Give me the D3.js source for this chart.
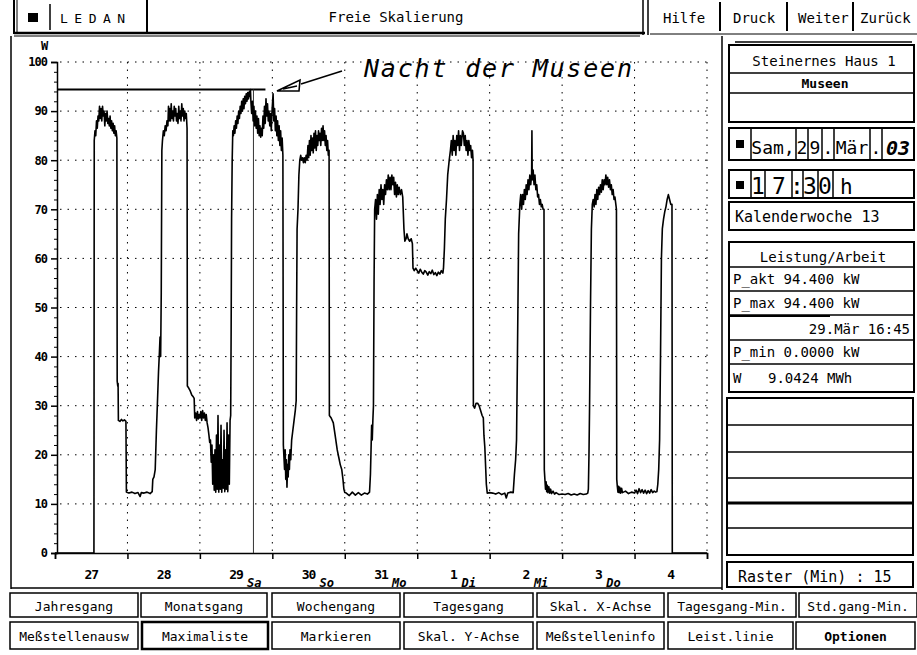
<!DOCTYPE html>
<html>
<head>
<meta charset="utf-8">
<script src="https://cdn.jsdelivr.net/npm/d3@7/dist/d3.min.js"></script>
<style>
  html, body { margin: 0; padding: 0; background: #fff; }
  svg { display: block; }
  text { font-family: "DejaVu Sans Mono", "Liberation Mono", monospace; fill: #000; }
</style>
</head>
<body>
<svg id="screen" width="917" height="655"></svg>
<script>
// Load profile of the metering point, 15-minute raster, [hour of day, kW]
const mar27 = [[0,0],[6,0],[12.9,0],[13.0,84],[13.25,86],[13.5,85],[13.75,88],[14,86.5],[14.25,89],[14.5,88],[14.75,91],[15,88.5],[15.25,90.5],[15.5,88],[15.75,91],[16,89],[16.25,90],[16.5,87],[16.75,89.5],[17,88],[17.25,90],[17.5,87.5],[17.75,88.5],[18,87],[18.25,89],[18.5,86.5],[18.75,88],[19,86],[19.25,87.5],[19.5,85.5],[19.75,87],[20,85],[20.25,86],[20.5,84.5],[20.6,35],[20.8,34],[20.9,34.5],[21.0,27],[21.5,26.8],[22,27.2],[22.5,26.9],[23,27.1],[23.5,26.8],[23.65,12.4],[24,12.3]];
const mar28 = [[0.5,12.2],[1.5,12.4],[2.5,12.1],[3.5,12.3],[4.2,11.5],[4.6,12.3],[5.5,12.2],[6.5,12.4],[7.5,12.1],[8.2,12.5],[8.4,15],[8.8,15.5],[9.2,17],[9.6,25],[9.9,30],[10.3,37],[10.6,41],[10.8,44],[11.0,40],[11.2,53],[11.4,82],[11.6,84],[11.9,86],[12.2,85],[12.5,87],[12.8,86],[13.1,88],[13.4,87],[13.6,91],[13.8,88],[14.0,90.5],[14.25,88],[14.5,91.5],[14.75,88.5],[15.0,90],[15.25,88],[15.5,91],[15.75,89],[16,90.5],[16.25,88],[16.5,89.5],[16.75,87.5],[17,91],[17.25,88.5],[17.5,90],[17.75,88],[18,91.5],[18.25,89],[18.5,90.5],[18.75,88],[19,90],[19.25,88.5],[19.5,89.5],[19.75,86.5],[19.85,34],[20.3,33.6],[20.8,33],[21.3,32.2],[21.8,31.8],[22.1,31.5],[22.3,27.5],[22.6,28.5],[22.9,27],[23.2,28.8],[23.5,27.3],[23.8,28.2]];
const mar29 = [[0,27.5],[0.3,28.8],[0.6,27],[0.9,29],[1.2,27.5],[1.5,28.5],[1.8,27],[2.1,28.2],[2.4,26.5],[2.7,25.5],[3.0,24],[3.25,22.5],[3.5,23],[3.75,18.5],[4.0,22],[4.25,14],[4.5,20],[4.75,12.8],[5.0,21],[5.25,12.4],[5.5,24],[5.75,13],[6.0,28],[6.25,12.4],[6.5,22],[6.75,13],[7.0,26],[7.25,12.4],[7.5,19],[7.75,13.2],[8.0,25],[8.25,12.5],[8.5,21],[8.75,13],[9.0,26.5],[9.25,12.5],[9.5,24],[9.75,14],[10.0,27],[10.2,28],[10.35,45],[10.5,68],[10.7,80],[10.9,86],[11.1,85],[11.35,87],[11.6,85.5],[11.85,88],[12.1,86.5],[12.35,89],[12.6,87.5],[12.85,90],[13.1,88.5],[13.35,91],[13.6,89.5],[13.85,92],[14.1,90],[14.35,92.5],[14.6,90.5],[14.85,93],[15.1,91.5],[15.35,93.5],[15.6,92],[15.85,93.8],[16.1,92.5],[16.4,94],[16.6,93],[16.75,94.4],[16.9,92],[17.15,89.5],[17.4,92],[17.65,88],[17.9,91],[18.15,87],[18.4,90],[18.65,86.5],[18.9,89],[19.15,85.5],[19.4,88.5],[19.65,85],[19.9,87],[20.15,84.7],[20.4,86.5],[20.65,85],[20.9,89],[21.15,86.5],[21.4,91],[21.65,87.5],[21.9,92.5],[22.15,89],[22.4,91.5],[22.65,88],[22.9,90],[23.15,87],[23.4,89.5],[23.65,86],[23.9,90]];
const mar30 = [[0.25,93.5],[0.5,88],[0.75,90.5],[1,86],[1.25,89],[1.5,85],[1.75,88],[2,84],[2.25,87],[2.5,83],[2.75,86],[3.0,82],[3.25,84.5],[3.5,81],[3.65,22],[3.85,19.5],[4.05,17],[4.25,21],[4.45,15],[4.65,19],[4.85,13.4],[5.05,18],[5.25,15.5],[5.45,20],[5.65,17],[5.85,21],[6.1,19],[6.4,23],[6.8,25],[7.2,27],[7.6,29],[7.9,31],[8.05,50],[8.2,66],[8.5,70],[8.8,77],[9.1,80],[9.4,81],[9.7,80],[10,80.5],[10.3,79.5],[10.6,80.5],[10.9,79.5],[11.2,81],[11.5,80],[11.8,83],[12.05,80.5],[12.3,84],[12.55,81],[12.8,85],[13.05,82],[13.3,84.5],[13.55,81.5],[13.8,85.5],[14.05,82.5],[14.3,86],[14.55,82],[14.8,85],[15.05,83],[15.3,86],[15.55,84],[15.8,85.5],[16.05,83],[16.3,86.5],[16.55,84],[16.8,87],[17.05,84],[17.3,86],[17.55,83],[17.8,85],[18.05,82],[18.3,84],[18.55,81],[18.8,82],[18.9,28],[19.5,27.5],[20.2,26.5],[20.8,24],[21.5,21],[22.0,19.5],[22.5,18],[23.0,17],[23.4,15],[23.7,13],[24,12.3]];
const mar31 = [[0.5,12.2],[1.5,11.7],[2.5,12.4],[3.5,11.8],[4.5,12.3],[5.5,11.8],[6.5,12.2],[7.5,12.0],[8.2,12.4],[8.5,16],[8.7,21],[8.9,26],[9.1,23],[9.3,27],[9.5,30],[9.7,55],[9.9,70],[10.2,72],[10.5,68],[10.8,73],[11.1,69],[11.4,74],[11.7,71],[12,75],[12.3,72],[12.6,74],[12.9,71],[13.2,75],[13.5,73],[13.8,76],[14.1,74],[14.4,77],[14.7,74],[15,76.5],[15.3,74],[15.6,77],[15.9,75],[16.2,76.5],[16.5,73],[16.8,75.5],[17.1,72.5],[17.4,75],[17.7,73],[18.0,74.5],[18.4,73],[18.8,74],[19.2,72.5],[19.6,66],[19.9,63.5],[20.3,64],[20.6,65],[21.0,64],[21.5,63.5],[22.0,64],[22.4,63],[22.6,58],[23,57.5],[23.5,58],[24,57.5]];
const apr01 = [[0.5,57],[1,57.8],[1.5,57.2],[2,56.8],[2.5,57.5],[3,57.2],[3.5,56.6],[4,57.3],[4.5,56.9],[5,57.6],[5.5,56.7],[6,57.1],[6.5,56.5],[7,57.2],[7.5,56.8],[8,57.5],[8.5,57],[8.7,58],[9.0,62],[9.3,68],[9.7,72],[10.1,77],[10.6,80],[11.0,82],[11.3,84],[11.6,81],[11.9,85],[12.2,82],[12.5,84],[12.8,81],[13.1,85],[13.4,83],[13.7,86],[14,82],[14.3,85],[14.6,83],[15,86],[15.3,85.5],[15.6,83],[15.9,85],[16.2,82],[16.5,84],[16.8,81],[17.1,84],[17.4,82],[17.7,83],[18,80.5],[18.3,82],[18.5,80],[18.6,30],[19.0,29.5],[19.5,30.5],[20.0,30.5],[20.5,30],[21.0,29],[21.5,28],[21.9,27.5],[22.1,24],[22.4,21.5],[22.7,17],[22.9,14],[23.2,12.2],[24,12.3]];
const apr02 = [[1,12.2],[2,12.0],[3,12.3],[4,11.9],[5,12.2],[5.5,11.2],[6,12.2],[7,12.4],[7.8,12.3],[8.2,16],[8.6,19],[8.9,23],[9.2,40],[9.6,65],[10.0,71],[10.3,73],[10.6,70],[10.9,73],[11.2,71],[11.5,74],[11.8,72],[12.1,75],[12.4,73],[12.7,76],[13.0,74],[13.3,77],[13.6,75],[13.9,77],[14.0,86],[14.1,76],[14.4,78],[14.7,75],[15.0,77],[15.3,74],[15.6,75],[15.9,72.5],[16.2,73],[16.5,71],[16.8,72],[17.1,70.5],[17.4,71],[17.7,70],[18.0,70],[18.1,17],[18.3,15],[18.5,13],[18.7,14.5],[18.9,12.5],[19.1,13.8],[19.3,12.3],[19.6,13.5],[19.9,12.2],[20.2,13],[20.5,12.1],[21,12.6],[21.5,12.0],[22,12.3],[23,11.9],[24,12.0]];
const apr03 = [[1,11.9],[2,12.1],[3,11.8],[4,12.0],[5,11.8],[6,12.1],[7,11.9],[8,12.0],[8.5,12.2],[8.7,13],[8.9,20],[9.1,30],[9.4,50],[9.7,66],[10.0,71],[10.3,72],[10.6,70.5],[10.9,73],[11.2,71],[11.5,74],[11.8,72],[12.1,74.5],[12.4,73],[12.7,75],[13.0,73.5],[13.3,76],[13.6,74],[13.9,76],[14.2,75],[14.5,77],[14.8,75],[15.1,76.5],[15.4,74.5],[15.7,76],[16.0,74],[16.3,75],[16.6,73],[16.9,74],[17.2,72],[17.5,72.5],[17.8,71],[18.0,70],[18.1,15],[18.3,13.5],[18.5,12.4],[18.7,13.6],[18.9,12.3],[19.1,13.4],[19.4,12.2],[19.7,13.2],[20.0,12.3],[21,12.6],[22,12.1],[23,12.4],[24,12.2]];
const apr04 = [[0.5,12.8],[1,12.1],[1.5,13.1],[2,12.3],[2.5,12.9],[3,12.2],[3.5,12.8],[4,12.1],[4.5,12.7],[5,12.2],[5.5,12.9],[6,12.3],[6.5,12.6],[7,12.4],[7.4,12.5],[7.7,14],[8.0,17],[8.3,23],[8.6,40],[8.9,60],[9.2,66],[9.6,68],[10.0,69.5],[10.4,70.5],[10.8,72],[11.2,73],[11.6,72],[12.0,71],[12.4,71],[12.5,0],[24,0]];

const dayLabels = ["27", "28", "29", "30", "31", "1", "2", "3", "4"];
const weekdayNotes = ["", "", "Sa", "So", "Mo", "Di", "Mi", "Do", ""];
const yTicks = [0, 10, 20, 30, 40, 50, 60, 70, 80, 90, 100];

// P_max marker: 29.Mär 16:45, 94.400 kW
const pMaxDay = 2, pMaxHour = 16.75, pMax = 94.4;

const topButtons = ["Jahresgang", "Monatsgang", "Wochengang", "Tagesgang", "Skal. X-Achse", "Tagesgang-Min.", "Std.gang-Min."];
const bottomButtons = ["Meßstellenausw", "Maximaliste", "Markieren", "Skal. Y-Achse", "Meßstelleninfo", "Leist.linie", "Optionen"];
const menuItems = ["Hilfe", "Druck", "Weiter", "Zurück"];

const days = [mar27, mar28, mar29, mar30, mar31, apr01, apr02, apr03, apr04];
const series = days.flatMap((d, i) => d.map(([h, v]) => ({ t: i * 24 + h, v })));

const svg = d3.select("#screen");
svg.append("rect").attr("width", 917).attr("height", 655).attr("fill", "#fff");

const x = d3.scaleLinear().domain([0, 9 * 24]).range([55, 707]);
const y = d3.scaleLinear().domain([0, 100]).range([553, 62]);

const line = (g, x1, y1, x2, y2, w = 1) =>
  g.append("line").attr("x1", x1).attr("y1", y1).attr("x2", x2).attr("y2", y2)
    .attr("stroke", "#000").attr("stroke-width", w);
const box = (g, x0, y0, w, h, sw = 1.5) =>
  g.append("rect").attr("x", x0).attr("y", y0).attr("width", w).attr("height", h)
    .attr("fill", "none").attr("stroke", "#000").attr("stroke-width", sw);

// ---------- header bar ----------
const head = svg.append("g");
box(head, 14, -4, 133, 37, 2);
line(head, 17, 0, 17, 33, 1);
head.append("rect").attr("x", 28).attr("y", 13).attr("width", 10).attr("height", 9).attr("fill", "#000");
line(head, 50, 4, 50, 30, 1.5);
head.append("text").attr("x", 60).attr("y", 23).attr("font-size", 13).attr("letter-spacing", 6.5).text("LEDAN");
line(head, 14, 33, 645, 33, 2.5);
line(head, 14, 36, 640, 36, 1);
head.append("text").attr("x", 396).attr("y", 22).attr("text-anchor", "middle").attr("font-size", 14).text("Freie Skalierung");
line(head, 643, 0, 643, 35, 1.5);
line(head, 648, 0, 648, 35, 1.5);
line(head, 650, 34, 917, 34, 1);
const menuX = [663, 733, 798, 860];
menuItems.forEach((m, i) => {
  head.append("text").attr("x", menuX[i]).attr("y", 23).attr("font-size", 14).text(m);
});
[720, 787, 853].forEach(sx => line(head, sx, 2, sx, 31, 2));

// ---------- chart panel frame ----------
line(svg, 11, 36, 11, 589, 1.5);
line(svg, 722, 36, 722, 590, 1.5);
line(svg, 11, 588, 722, 588, 1.5);

const plot = svg.append("g");

// dotted grid
const grid = plot.append("g").attr("stroke", "#000").attr("stroke-width", 1).attr("stroke-dasharray", "1.5,6");
yTicks.filter(v => v > 0).forEach(v => {
  grid.append("line").attr("x1", 60).attr("x2", x(9 * 24)).attr("y1", y(v)).attr("y2", y(v));
});
d3.range(1, 10).forEach(d => {
  grid.append("line").attr("x1", x(d * 24)).attr("x2", x(d * 24)).attr("y1", y(100)).attr("y2", y(0));
});

// y axis with minor ticks every 2 kW
const yAxis = d3.axisLeft(y).tickValues(yTicks).tickSize(6).tickPadding(4).tickFormat(d3.format("d"));
const yg = plot.append("g").attr("transform", "translate(57,0)").call(yAxis);
yg.select(".domain").attr("stroke", "#000").attr("stroke-width", 1.5);
yg.selectAll(".tick line").attr("stroke", "#000").attr("stroke-width", 1.5);
yg.selectAll(".tick text").attr("font-size", 12).attr("font-weight", "bold")
  .attr("letter-spacing", -1).attr("font-family", "DejaVu Sans Mono").attr("fill", "#000");
const yMinor = d3.axisLeft(y).tickValues(d3.range(0, 101, 2).filter(v => v % 10 !== 0)).tickSize(3).tickFormat("");
const ym = plot.append("g").attr("transform", "translate(57,0)").call(yMinor);
ym.select(".domain").remove();
ym.selectAll(".tick line").attr("stroke", "#000").attr("stroke-width", 1);
plot.append("text").attr("x", 41).attr("y", 50).attr("font-size", 12).attr("font-weight", "bold").text("W");

// x axis: one tick per day, label centred in the day
const xAxis = d3.axisBottom(x).tickValues(d3.range(0, 10).map(d => d * 24)).tickSize(6).tickFormat("");
const xg = plot.append("g").attr("transform", `translate(0,${y(0)})`).call(xAxis);
xg.select(".domain").attr("stroke", "#000").attr("stroke-width", 1.5);
xg.selectAll(".tick line").attr("stroke", "#000").attr("stroke-width", 1.5);
dayLabels.forEach((lab, i) => {
  const cx = x(i * 24 + 12);
  plot.append("text").attr("x", cx).attr("y", 579).attr("text-anchor", "middle")
    .attr("font-size", 13).attr("font-weight", "bold").attr("letter-spacing", -1).text(lab);
  if (weekdayNotes[i]) {
    plot.append("text").attr("x", cx + (lab.length > 1 ? 11 : 8)).attr("y", 587)
      .attr("font-family", "DejaVu Serif").attr("font-style", "italic").attr("font-weight", "bold")
      .attr("font-size", 12).text(weekdayNotes[i]);
  }
});

// P_max line and cursor
line(plot, 57, y(pMax), x(pMaxDay * 24 + pMaxHour) + 15, y(pMax), 2.2);
plot.append("line")
  .attr("x1", x(pMaxDay * 24 + pMaxHour) + 3).attr("x2", x(pMaxDay * 24 + pMaxHour) + 3)
  .attr("y1", y(pMax)).attr("y2", y(0))
  .attr("stroke", "#333").attr("stroke-width", 1);

// load curve
const curve = d3.line().x(d => x(d.t)).y(d => y(d.v));
plot.append("path").datum(series).attr("d", curve)
  .attr("fill", "none").attr("stroke", "#000").attr("stroke-width", 1.6).attr("stroke-linejoin", "round");

// handwritten note with arrow to the peak
const note = plot.append("g");
note.append("text").attr("x", 364).attr("y", 77)
  .attr("font-family", "DejaVu Serif").attr("font-style", "italic").attr("font-size", 25)
  .attr("textLength", 270).attr("lengthAdjust", "spacing").attr("letter-spacing", 2)
  .text("Nacht der Museen");
note.append("path").attr("d", "M 301 84 L 342 71")
  .attr("fill", "none").attr("stroke", "#000").attr("stroke-width", 1.6);
note.append("path").attr("d", "M 277 91 L 300 80 L 299 91 Z M 283 89 L 297 86")
  .attr("fill", "none").attr("stroke", "#000").attr("stroke-width", 1.6);

// ---------- right info panel ----------
const side = svg.append("g");
line(side, 735, 42, 912, 42, 1.5);
box(side, 729, 45, 185, 77, 2);
line(side, 729, 73, 914, 73, 1.5);
line(side, 729, 93, 914, 93, 1.5);
side.append("text").attr("x", 824).attr("y", 66).attr("text-anchor", "middle").attr("font-size", 14).text("Steinernes Haus  1");
side.append("text").attr("x", 825).attr("y", 88).attr("text-anchor", "middle").attr("font-size", 13).attr("font-weight", "bold").text("Museen");

// date cells
box(side, 729, 128, 185, 32, 2);
[751, 796, 808, 822, 834, 870, 882].forEach(sx => line(side, sx, 128, sx, 160, 1.5));
side.append("rect").attr("x", 736).attr("y", 140).attr("width", 8).attr("height", 8).attr("fill", "#000");
const dateCells = [["Sam,", 773], ["2", 802], ["9", 815], [".", 828], ["Mär", 852], [".", 876]];
dateCells.forEach(([t, cx]) => side.append("text").attr("x", cx).attr("y", 154).attr("text-anchor", "middle")
  .attr("font-family", "Liberation Sans").attr("font-size", 18).text(t));
side.append("text").attr("x", 898).attr("y", 155).attr("text-anchor", "middle")
  .attr("font-family", "Liberation Sans").attr("font-style", "italic").attr("font-weight", "bold").attr("font-size", 20).text("03");

// time cells
box(side, 729, 170, 185, 28, 2);
[751, 765, 792, 803, 818, 833].forEach(sx => line(side, sx, 170, sx, 198, 1.5));
side.append("rect").attr("x", 736).attr("y", 181).attr("width", 8).attr("height", 8).attr("fill", "#000");
const timeCells = [["1", 758], ["7", 779], [":", 797], ["3", 810], ["0", 825]];
timeCells.forEach(([t, cx]) => side.append("text").attr("x", cx).attr("y", 194).attr("text-anchor", "middle")
  .attr("font-family", "Liberation Sans").attr("font-size", 23).text(t));
side.append("text").attr("x", 840).attr("y", 194).attr("font-family", "Liberation Sans").attr("font-size", 21).text("h");

box(side, 729, 202, 185, 28, 2);
side.append("text").attr("x", 735).attr("y", 222).attr("font-size", 15).text("Kalenderwoche 13");

// power / energy box
box(side, 729, 242, 185, 150, 2);
[267, 291, 340, 364].forEach(ly => line(side, 729, ly, 914, ly, 1.5));
line(side, 729, 315, 914, 315, 1.5);
line(side, 729, 316, 830, 316, 2);
side.append("text").attr("x", 823).attr("y", 262).attr("text-anchor", "middle").attr("font-size", 14).text("Leistung/Arbeit");
side.append("text").attr("x", 733).attr("y", 284).attr("font-size", 14).text("P_akt 94.400 kW");
side.append("text").attr("x", 733).attr("y", 308).attr("font-size", 14).text("P_max 94.400 kW");
side.append("text").attr("x", 910).attr("y", 334).attr("text-anchor", "end").attr("font-size", 14).text("29.Mär 16:45");
side.append("text").attr("x", 733).attr("y", 357).attr("font-size", 14).text("P_min 0.0000 kW");
side.append("text").attr("x", 733).attr("y", 383).attr("font-size", 14).text("W");
side.append("text").attr("x", 768).attr("y", 383).attr("font-size", 14).text("9.0424 MWh");

// empty list box
box(side, 727, 398, 186, 157, 2);
[425, 452, 478, 528].forEach(ly => line(side, 727, ly, 913, ly, 1.5));
line(side, 727, 503, 913, 503, 3);

box(side, 727, 562, 186, 25, 2);
side.append("text").attr("x", 738).attr("y", 582).attr("font-size", 15).text("Raster (Min) : 15");

// ---------- button rows ----------
const btn = svg.append("g");
const row1 = [[10, 138], [141, 267], [272, 400], [404, 533], [537, 664], [668, 796], [799, 917]];
const row2 = [[10, 138], [142, 268], [272, 400], [404, 533], [537, 664], [668, 793], [796, 915]];
topButtons.forEach((t, i) => {
  const [a, b] = row1[i];
  box(btn, a, 593, b - a, 24, 1.5);
  btn.append("text").attr("x", (a + b) / 2).attr("y", 611).attr("text-anchor", "middle").attr("font-size", 13).text(t);
});
bottomButtons.forEach((t, i) => {
  const [a, b] = row2[i];
  box(btn, a, 622, b - a, 27, i === 1 ? 2.5 : 1.5);
  btn.append("text").attr("x", (a + b) / 2).attr("y", 641).attr("text-anchor", "middle").attr("font-size", 13)
    .attr("font-weight", i === 6 ? "bold" : "normal").text(t);
});
</script>
</body>
</html>
